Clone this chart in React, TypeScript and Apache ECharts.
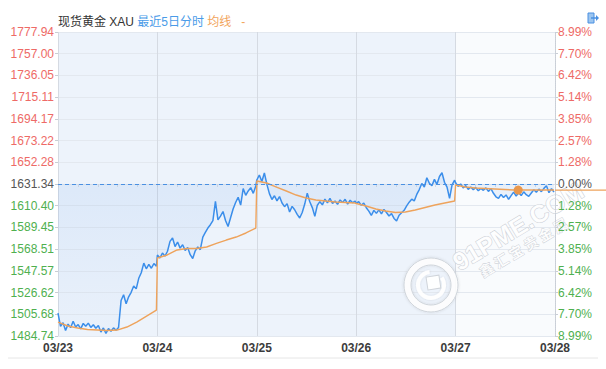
import React, { useEffect, useRef } from "react";
import * as echarts from "echarts";

// Axis labels
const dateLabels = ["03/23", "03/24", "03/25", "03/26", "03/27", "03/28"];
const priceLabels = [
  "1484.74", "1505.68", "1526.62", "1547.57", "1568.51", "1589.45", "1610.40",
  "1631.34", "1652.28", "1673.22", "1694.17", "1715.11", "1736.05", "1757.00", "1777.94",
];
const pctLabels = [
  "8.99%", "7.70%", "6.42%", "5.14%", "3.85%", "2.57%", "1.28%",
  "0.00%", "1.28%", "2.57%", "3.85%", "5.14%", "6.42%", "7.70%", "8.99%",
];

// Previous close and the price distance between two grid rows
const prevClose = 1631.34;
const priceStep = 20.94;

// Intraday prices, one array per trading day
const day1Price = [1506.9, 1494.0, 1497.5, 1490.0, 1496.2, 1492.8, 1499.0, 1493.4, 1495.8, 1491.6, 1496.9, 1494.1, 1497.2, 1493.0, 1495.6, 1492.2, 1494.8, 1488.6, 1492.5, 1487.2, 1491.9, 1489.4, 1492.6, 1490.3, 1493.0, 1519.0, 1524.5, 1515.8, 1522.6, 1526.9, 1533.0, 1530.2, 1540.4, 1545.8, 1555.0, 1549.6, 1553.8, 1550.1, 1554.6, 1552.0];
const day2Price = [1562.9, 1560.0, 1564.8, 1561.8, 1566.5, 1576.0, 1579.3, 1571.0, 1575.4, 1569.5, 1572.8, 1567.3, 1570.1, 1563.2, 1559.5, 1566.9, 1570.6, 1568.0, 1580.2, 1584.6, 1588.9, 1592.1, 1596.0, 1614.5, 1596.8, 1600.3, 1604.8, 1596.2, 1590.4, 1598.8, 1607.3, 1613.5, 1618.6, 1611.0, 1626.9, 1620.4, 1624.6, 1627.8, 1622.3, 1629.5];
const day3Price = [1635.2, 1640.0, 1633.8, 1642.0, 1631.0, 1622.1, 1616.4, 1620.0, 1615.0, 1619.2, 1613.0, 1609.5, 1612.4, 1604.3, 1609.8, 1606.5, 1602.0, 1598.6, 1603.9, 1612.0, 1622.5, 1614.2, 1608.6, 1600.1, 1610.9, 1614.3, 1611.2, 1616.8, 1613.1, 1617.4, 1612.5, 1615.0, 1611.8, 1616.0, 1613.4, 1616.6, 1612.0, 1615.7, 1613.3, 1614.9];
const day4Price = [1612.6, 1614.4, 1610.8, 1612.9, 1608.5, 1605.2, 1601.0, 1605.9, 1603.0, 1606.4, 1602.6, 1606.8, 1603.9, 1600.5, 1602.8, 1598.1, 1595.6, 1601.2, 1603.6, 1606.0, 1610.2, 1613.8, 1616.7, 1615.0, 1621.3, 1626.0, 1631.9, 1628.5, 1637.4, 1632.0, 1629.6, 1635.8, 1631.0, 1638.6, 1642.2, 1633.0, 1628.4, 1617.5, 1630.6, 1635.0];
const day5Price = [1632.5, 1629.0, 1631.4, 1627.6, 1629.8, 1626.2, 1628.4, 1625.9, 1627.8, 1624.8, 1627.0, 1625.3, 1627.6, 1624.2, 1626.9, 1622.4, 1619.0, 1617.5, 1621.3, 1618.4, 1620.8, 1616.6, 1620.1, 1623.5, 1619.7, 1622.9, 1620.2, 1623.8, 1621.0, 1619.4, 1622.6, 1625.8, 1623.4, 1626.4, 1624.0, 1627.1, 1629.6, 1623.0, 1626.8, 1623.6];

// Running average (均线) per trading day
const day1Avg = [1498.2, 1494.4, 1492.5, 1491.0, 1490.5, 1490.0, 1490.5, 1493.4, 1498.2, 1504.0, 1509.8];
const day2Avg = [1560.0, 1562.9, 1567.7, 1569.1, 1569.1, 1570.6, 1574.0, 1577.3, 1580.2, 1584.1, 1588.9];
const day3Avg = [1634.2, 1632.3, 1628.4, 1624.6, 1620.7, 1617.8, 1615.9, 1614.9, 1614.0, 1613.5, 1613.0];
const day4Avg = [1612.5, 1610.1, 1607.2, 1605.3, 1603.8, 1604.3, 1606.3, 1608.7, 1611.1, 1613.0, 1614.9];
const day5Avg = [1630.4, 1628.4, 1627.5, 1627.0, 1626.5, 1626.0, 1625.5, 1625.5, 1625.5, 1625.5, 1625.5];

// Cursor marker on the average line (time in days from 03/23, price)
const markerTime = 4.63;
const markerPrice = 1625.5;

const FONT = '"Liberation Sans", Arial, "Noto Sans CJK SC", sans-serif';
const BLUE = "#3b8eea";
const ORANGE = "#eea35c";
const RED = "#ee6a66";
const GREEN = "#4fb04f";

const toStep = (p: number) => (p - prevClose) / priceStep;

function buildSeries(days: number[][]): [number, number][] {
  const out: [number, number][] = [];
  days.forEach((vals, d) => {
    const n = vals.length;
    vals.forEach((p, i) => out.push([d + (i / (n - 1)) * 0.99, toStep(p)]));
  });
  return out;
}

const labelColor = (v: any) => {
  const k = Math.round(Number(v));
  return k > 0 ? RED : k < 0 ? GREEN : "#555";
};

export default function App() {
  const ref = useRef<HTMLDivElement>(null);

  useEffect(() => {
    document.body.style.margin = "0";
    const chart = echarts.init(ref.current!, undefined, { renderer: "svg" });

    const priceData = buildSeries([day1Price, day2Price, day3Price, day4Price, day5Price]);
    const avgData = buildSeries([day1Avg, day2Avg, day3Avg, day4Avg, day5Avg]);

    chart.setOption({
      animation: false,
      textStyle: { fontFamily: FONT },
      title: {
        left: 58,
        top: 16,
        padding: 0,
        text: "{a|现货黄金 XAU} {b|最近5日分时} {c|均线}   {c|-}",
        textStyle: {
          fontSize: 12,
          fontWeight: "normal",
          fontFamily: FONT,
          rich: {
            a: { color: "#333", fontSize: 12, fontFamily: FONT },
            b: { color: "#4a9be8", fontSize: 12, fontFamily: FONT },
            c: { color: "#f2a55c", fontSize: 12, fontFamily: FONT },
          },
        },
      },
      grid: { left: 58, right: 51, top: 32, bottom: 33 },
      xAxis: {
        type: "value",
        min: 0,
        max: 5,
        interval: 1,
        axisLine: { show: true, lineStyle: { color: "#e1e5eb" } },
        axisTick: { show: true, length: 3, lineStyle: { color: "#cfd4db" } },
        minorTick: { show: true, splitNumber: 5, length: 3, lineStyle: { color: "#d6dbe2" } },
        splitLine: { show: true, lineStyle: { color: "#d5dae2" } },
        axisLabel: {
          margin: 6,
          fontSize: 12,
          fontWeight: "bold",
          color: "#3c3c3c",
          fontFamily: FONT,
          formatter: (v: number) => dateLabels[Math.round(v)] ?? "",
        },
      },
      yAxis: [
        {
          type: "value",
          position: "left",
          min: -7,
          max: 7,
          interval: 1,
          axisLine: { show: false },
          axisTick: { show: true, length: 3, lineStyle: { color: "#c8cdd4" } },
          splitLine: { show: true, lineStyle: { color: "#e3e8ef" } },
          axisLabel: {
            margin: 4,
            fontSize: 12,
            fontFamily: FONT,
            color: labelColor,
            formatter: (v: number) => priceLabels[Math.round(v) + 7] ?? "",
          },
        },
        {
          type: "value",
          position: "right",
          min: -7,
          max: 7,
          interval: 1,
          axisLine: { show: true, lineStyle: { color: "#c9ced6", type: "dotted" } },
          axisTick: { show: true, length: 3, lineStyle: { color: "#c9ced6" } },
          splitLine: { show: false },
          axisLabel: {
            margin: 3,
            fontSize: 12,
            fontFamily: FONT,
            color: labelColor,
            formatter: (v: number) => pctLabels[Math.round(v) + 7] ?? "",
          },
        },
      ],
      series: [
        {
          name: "price",
          type: "line",
          data: priceData,
          showSymbol: false,
          symbol: "none",
          lineStyle: { color: BLUE, width: 1.5 },
          areaStyle: {
            color: new echarts.graphic.LinearGradient(0, 0, 0, 1, [
              { offset: 0, color: "rgba(70,140,230,0.15)" },
              { offset: 1, color: "rgba(70,140,230,0.03)" },
            ]),
          },
          markArea: {
            silent: true,
            z: -1,
            data: [
              [{ xAxis: 0, itemStyle: { color: "#edf3fb" } }, { xAxis: 4 }],
              [{ xAxis: 4, itemStyle: { color: "#f9fbfd" } }, { xAxis: 5 }],
            ],
          },
          markLine: {
            silent: true,
            symbol: ["none", "none"],
            label: { show: false },
            lineStyle: { type: [4, 3], color: "#4a90e2", width: 1 },
            data: [{ yAxis: 0 }],
          },
          z: 2,
        },
        {
          name: "均线",
          type: "line",
          data: avgData,
          showSymbol: false,
          symbol: "none",
          lineStyle: { color: ORANGE, width: 1.4 },
          markPoint: {
            silent: true,
            symbol: "circle",
            symbolSize: 9,
            itemStyle: { color: "#e9974c" },
            label: { show: false },
            data: [{ coord: [markerTime, toStep(markerPrice)] }],
          },
          z: 3,
        },
      ],
    });

    // Extend the latest average level past the plot edge
    const lastAvg = toStep(day5Avg[day5Avg.length - 1]);
    const [gx, gy] = chart.convertToPixel({ gridIndex: 0 }, [5, lastAvg]) as number[];

    chart.setOption({
      graphic: [
        {
          type: "line",
          id: "avgTail",
          shape: { x1: gx, y1: gy, x2: 606, y2: gy },
          style: { stroke: ORANGE, lineWidth: 1.3 },
          z: 10,
        },
        {
          type: "line",
          id: "footer",
          shape: { x1: 8, y1: 358, x2: 598, y2: 358 },
          style: { stroke: "#e6e6e6", lineWidth: 1 },
        },
        {
          type: "group",
          id: "exitIcon",
          x: 588,
          y: 13,
          children: [
            { type: "rect", shape: { x: 0, y: 0, width: 6, height: 10 }, style: { fill: "#9cc5ef", stroke: "#4a90e2", lineWidth: 1 } },
            { type: "line", shape: { x1: 3, y1: 5, x2: 10, y2: 5 }, style: { stroke: "#4a90e2", lineWidth: 1.5 } },
            { type: "polygon", shape: { points: [[8, 2], [11, 5], [8, 8]] }, style: { fill: "#4a90e2" } },
          ],
        },
        {
          type: "group",
          id: "watermark",
          z: 50,
          children: [
            { type: "ring", shape: { cx: 431, cy: 285, r: 27, r0: 20 }, style: { fill: "rgba(255,255,255,0.88)", stroke: "#cfd4da", lineWidth: 1, shadowBlur: 3, shadowColor: "rgba(0,0,0,0.12)" } },
            { type: "arc", shape: { cx: 431, cy: 285, r: 13, startAngle: -0.6, endAngle: 4.6 }, style: { stroke: "rgba(255,255,255,0.95)", lineWidth: 4, fill: "none", shadowBlur: 2, shadowColor: "rgba(0,0,0,0.12)" } },
            { type: "rect", x: 434, y: 283, rotation: 0.15, shape: { x: -7, y: -7, width: 13, height: 13 }, style: { fill: "rgba(255,255,255,0.95)", stroke: "#cfd4da", lineWidth: 1 } },
            {
              type: "text",
              x: 518,
              y: 226,
              rotation: 0.54,
              style: {
                text: "91PME.COM",
                font: 'bold 25px "Liberation Sans", Arial, sans-serif',
                fill: "rgba(255,255,255,0.92)",
                stroke: "#c9ced5",
                lineWidth: 1,
                align: "center",
                verticalAlign: "middle",
              },
            },
            {
              type: "text",
              x: 523,
              y: 247,
              rotation: 0.54,
              style: {
                text: "鑫 汇 宝 贵 金 属",
                font: 'bold 14px "Noto Sans CJK SC", sans-serif',
                fill: "rgba(255,255,255,0.92)",
                stroke: "#c9ced5",
                lineWidth: 0.8,
                align: "center",
                verticalAlign: "middle",
              },
            },
          ],
        },
      ],
    });

    return () => chart.dispose();
  }, []);

  return <div ref={ref} style={{ width: 606, height: 369 }} />;
}
